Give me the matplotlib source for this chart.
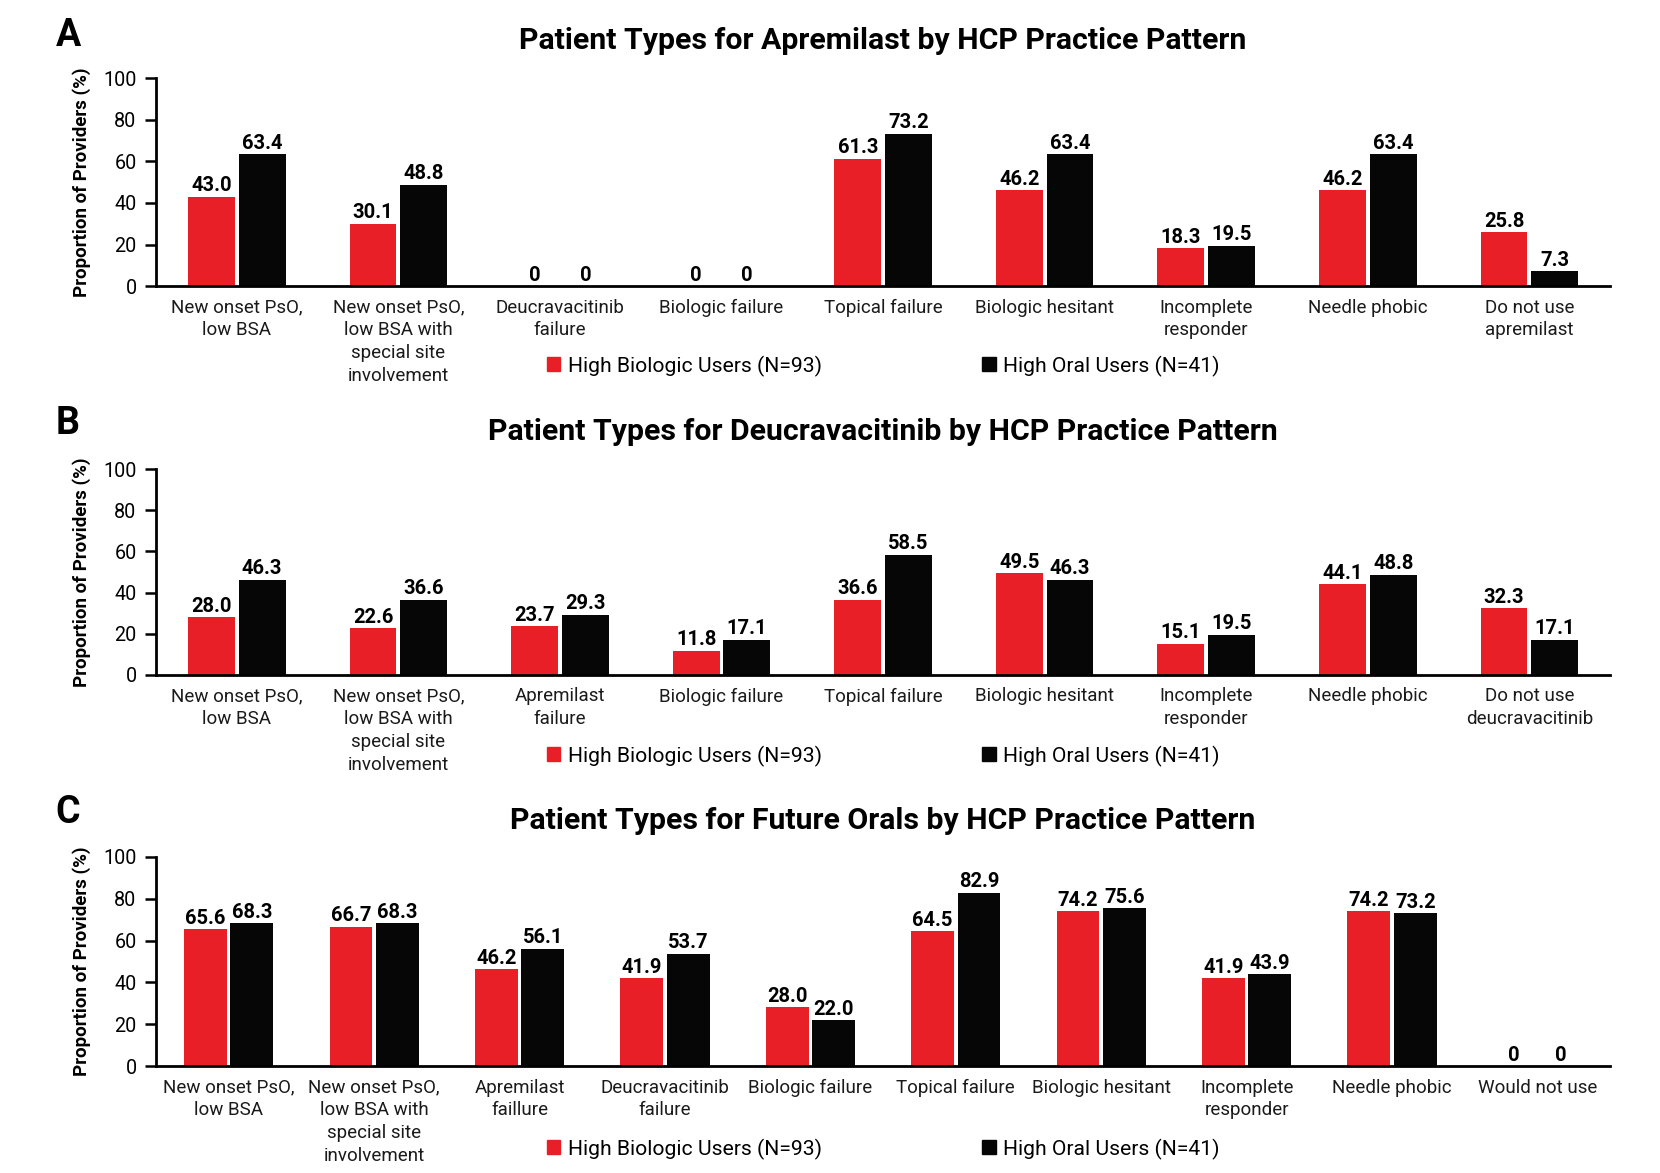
import numpy as np
import matplotlib
matplotlib.use("Agg")
import matplotlib.pyplot as plt
from matplotlib.patches import Patch

plt.rcParams['font.family'] = ['Roboto', 'DejaVu Sans']

# panel A - apremilast
cats_a = ["New onset PsO,\nlow BSA", "New onset PsO,\nlow BSA with\nspecial site\ninvolvement",
          "Deucravacitinib\nfailure", "Biologic failure", "Topical failure", "Biologic hesitant",
          "Incomplete\nresponder", "Needle phobic", "Do not use\napremilast"]
bio_a = [43.0, 30.1, 0, 0, 61.3, 46.2, 18.3, 46.2, 25.8]
oral_a = [63.4, 48.8, 0, 0, 73.2, 63.4, 19.5, 63.4, 7.3]

# panel B - deucravacitinib
cats_b = ["New onset PsO,\nlow BSA", "New onset PsO,\nlow BSA with\nspecial site\ninvolvement",
          "Apremilast\nfailure", "Biologic failure", "Topical failure", "Biologic hesitant",
          "Incomplete\nresponder", "Needle phobic", "Do not use\ndeucravacitinib"]
bio_b = [28.0, 22.6, 23.7, 11.8, 36.6, 49.5, 15.1, 44.1, 32.3]
oral_b = [46.3, 36.6, 29.3, 17.1, 58.5, 46.3, 19.5, 48.8, 17.1]

# panel C - future orals
cats_c = ["New onset PsO,\nlow BSA", "New onset PsO,\nlow BSA with\nspecial site\ninvolvement",
          "Apremilast\nfaillure", "Deucravacitinib\nfailure", "Biologic failure", "Topical failure",
          "Biologic hesitant", "Incomplete\nresponder", "Needle phobic", "Would not use"]
bio_c = [65.6, 66.7, 46.2, 41.9, 28.0, 64.5, 74.2, 41.9, 74.2, 0]
oral_c = [68.3, 68.3, 56.1, 53.7, 22.0, 82.9, 75.6, 43.9, 73.2, 0]

titles = ["Patient Types for Apremilast by HCP Practice Pattern",
          "Patient Types for Deucravacitinib by HCP Practice Pattern",
          "Patient Types for Future Orals by HCP Practice Pattern"]
letters = ["A", "B", "C"]
legend_labels = ["High Biologic Users (N=93)", "High Oral Users (N=41)"]

RED = "#E81F27"
BLACK = "#060606"

fig = plt.figure(figsize=(16.6, 11.73), dpi=100)

# axes boxes [left, bottom, width, height]
boxes = [[0.094, 0.756, 0.876, 0.1775],
         [0.094, 0.4246, 0.876, 0.1754],
         [0.094, 0.0912, 0.876, 0.1782]]
title_y = [0.965, 0.632, 0.3005]
letter_y = [0.970, 0.639, 0.307]
legend_y = [0.688, 0.3555, 0.0205]

panels = [(cats_a, bio_a, oral_a), (cats_b, bio_b, oral_b), (cats_c, bio_c, oral_c)]

for i, (cats, bio, oral) in enumerate(panels):
    ax = fig.add_axes(boxes[i])
    x = np.arange(len(cats))
    w = 0.29 if len(cats) == 9 else 0.295
    gap = 0.012
    ax.bar(x - w/2 - gap, bio, width=w, color=RED)
    ax.bar(x + w/2 + gap, oral, width=w, color=BLACK)
    for xi, v in zip(x, bio):
        lbl = "0" if v == 0 else "%.1f" % v
        ax.annotate(lbl, (xi - w/2 - gap, v), xytext=(0, 1), textcoords="offset points",
                    ha="center", va="bottom", fontsize=14.5, fontweight="bold")
    for xi, v in zip(x, oral):
        lbl = "0" if v == 0 else "%.1f" % v
        ax.annotate(lbl, (xi + w/2 + gap, v), xytext=(0, 1), textcoords="offset points",
                    ha="center", va="bottom", fontsize=14.5, fontweight="bold")

    ax.set_xlim(-0.5, len(cats) - 0.5)
    ax.set_ylim(0, 100)
    ax.set_yticks(range(0, 101, 20))
    ax.set_xticks(x)
    ax.set_xticklabels(cats, fontsize=13.5, linespacing=1.34, color="#1a1a1a")
    ax.tick_params(axis="x", length=0, pad=9)
    ax.tick_params(axis="y", length=8, width=1.8, labelsize=14.2, pad=6, colors="black")
    for s in ["top", "right"]:
        ax.spines[s].set_visible(False)
    for s in ["left", "bottom"]:
        ax.spines[s].set_linewidth(2)
    ax.set_ylabel("Proportion of Providers (%)", fontsize=13.5, fontweight="bold", labelpad=9)

    fig.text(0.532, title_y[i], titles[i], ha="center", va="center",
             fontsize=21.8, fontweight="bold")
    fig.text(0.0335, letter_y[i], letters[i], ha="left", va="center",
             fontsize=27, fontweight="bold")

    handles = [Patch(color=RED), Patch(color=BLACK)]
    fig.legend(handles, legend_labels, loc="center", bbox_to_anchor=(0.532, legend_y[i]),
               ncol=2, frameon=False, fontsize=15.2, handlelength=0.65, handleheight=0.65,
               handletextpad=0.35, columnspacing=7.6)

fig.savefig("out.png", dpi=100)
